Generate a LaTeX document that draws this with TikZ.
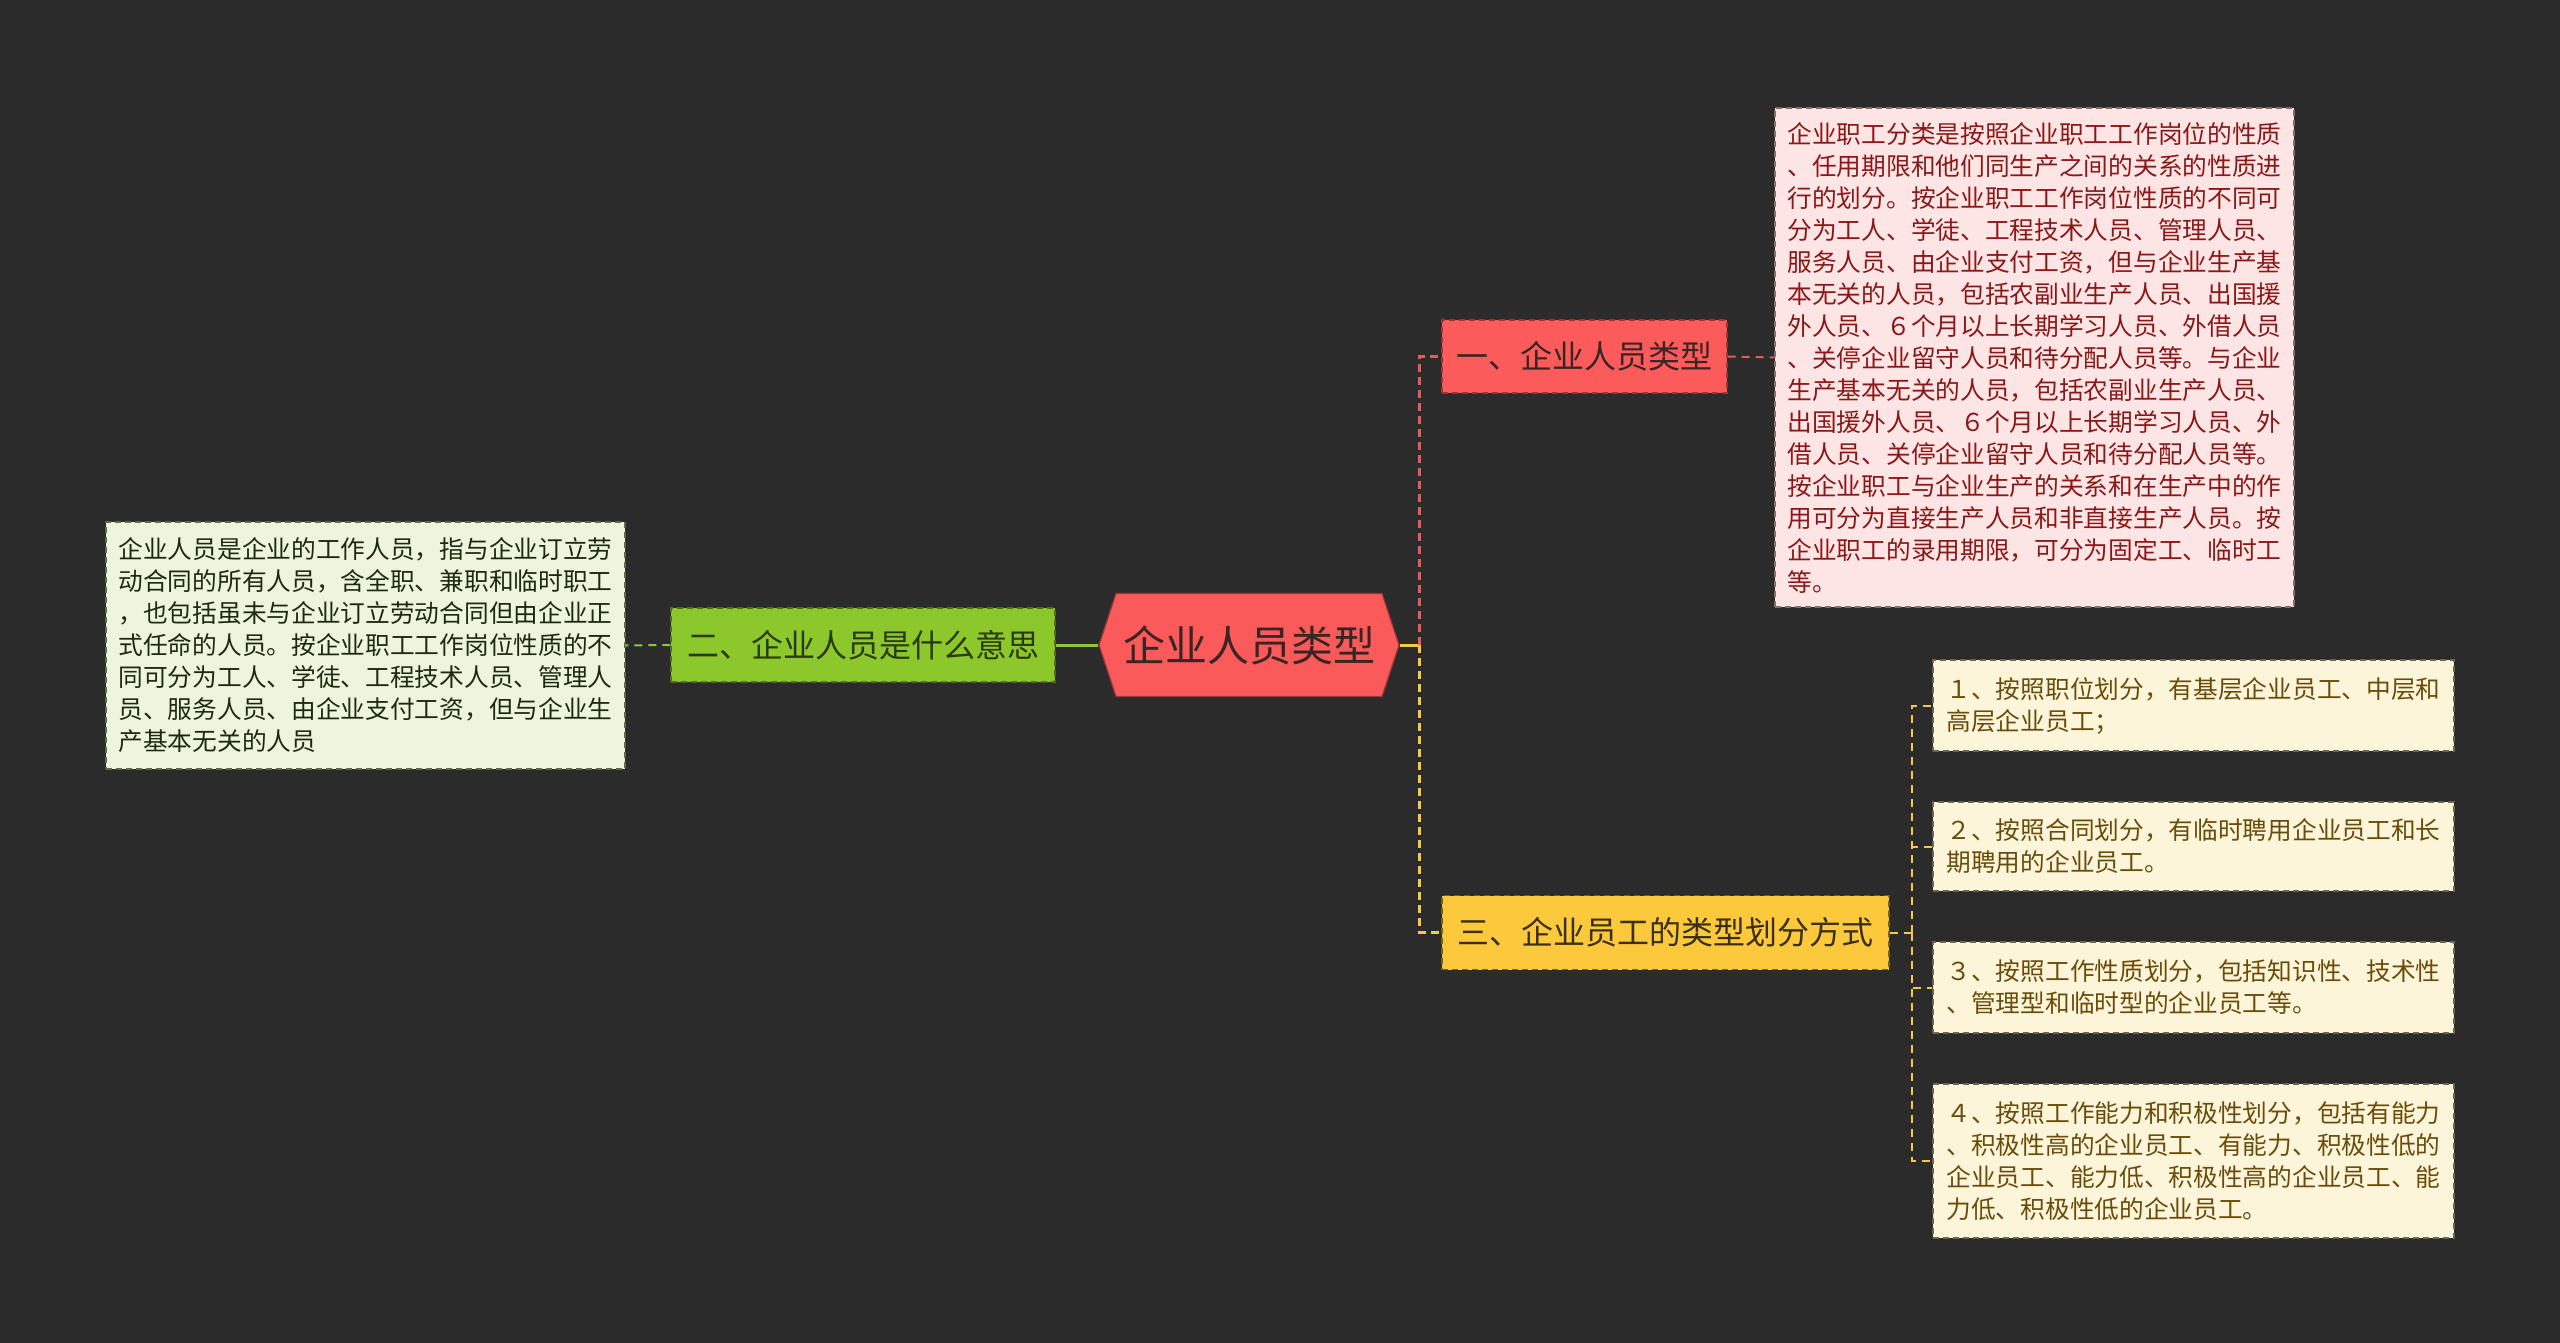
\documentclass[tikz,border=0pt]{standalone}
\usepackage{fontspec}
\setmainfont{Noto Sans CJK SC}
\usetikzlibrary{shapes.symbols}
\definecolor{bgc}{HTML}{2B2B2B}
\definecolor{rootfill}{HTML}{FA5A5A}
\definecolor{roottext}{HTML}{3B2424}
\definecolor{redfill}{HTML}{FB5B5B}
\definecolor{redline}{HTML}{E25C5C}
\definecolor{redborder}{HTML}{9E3535}
\definecolor{greenfill}{HTML}{8CC82C}
\definecolor{greenline}{HTML}{8CC83C}
\definecolor{greenborder}{HTML}{4E6E1E}
\definecolor{greentext}{HTML}{2A3A10}
\definecolor{yelfill}{HTML}{FCC83C}
\definecolor{yelline}{HTML}{F5C845}
\definecolor{yelborder}{HTML}{7A6020}
\definecolor{yeltext}{HTML}{3A3010}
\definecolor{pinkfill}{HTML}{FDE5E5}
\definecolor{pinktext}{HTML}{8A1818}
\definecolor{pinkborder}{HTML}{8A6A6A}
\definecolor{lgreenfill}{HTML}{EDF5DE}
\definecolor{lgreentext}{HTML}{1E2A10}
\definecolor{lgreenborder}{HTML}{5E6A48}
\definecolor{creamfill}{HTML}{FDF5DA}
\definecolor{creamtext}{HTML}{6A4C0A}
\definecolor{creamborder}{HTML}{6E6450}
\tikzset{
  leafbox/.style={rectangle, draw, dash pattern=on 3pt off 2pt, line width=0.6pt, inner sep=0pt, align=left, font=\fontsize{12.35}{16}\selectfont},
  branchbox/.style={rectangle, draw, dash pattern=on 3pt off 2pt, line width=0.6pt, inner sep=0pt, minimum height=37pt, font=\fontsize{16}{20}\selectfont},
  thickdash/.style={line width=1.5pt, dash pattern=on 4pt off 2.5pt},
  thindash/.style={line width=1pt, dash pattern=on 4pt off 3pt},
}
\begin{document}
\begin{tikzpicture}[x=0.5pt,y=-0.5pt]
\fill[bgc] (0,0) rectangle (2560,1343);
\useasboundingbox (0,0) rectangle (2560,1343);

% root
\node[shape=signal, signal to=east and west, signal pointer angle=143.5, fill=rootfill, draw=redborder, line width=0.6pt, minimum width=150pt, minimum height=51.5pt, inner sep=0pt, text=roottext, font=\fontsize{21}{24}\selectfont] (root) at (1249,645) {企业人员类型};

% branches
\node[branchbox, fill=greenfill, draw=greenborder, text=greentext, minimum width=192pt] (b2) at (863,645) {二、企业人员是什么意思};
\node[branchbox, fill=redfill, draw=redborder, text=roottext, minimum width=142.5pt, minimum height=36.5pt] (b1) at (1584.5,356.5) {一、企业人员类型};
\node[branchbox, fill=yelfill, draw=yelborder, text=yeltext, minimum width=223.5pt] (b3) at (1665.5,932.5) {三、企业员工的类型划分方式};

% leaves
\node[leafbox, fill=lgreenfill, draw=lgreenborder, text=lgreentext, minimum width=259.5pt, minimum height=123.5pt] (l2) at (365.5,645.5) {企业人员是企业的工作人员，指与企业订立劳\\动合同的所有人员，含全职、兼职和临时职工\\，也包括虽未与企业订立劳动合同但由企业正\\式任命的人员。按企业职工工作岗位性质的不\\同可分为工人、学徒、工程技术人员、管理人\\员、服务人员、由企业支付工资，但与企业生\\产基本无关的人员};

\node[leafbox, fill=pinkfill, draw=pinkborder, text=pinktext, minimum width=259.5pt, minimum height=249.5pt] (l1) at (2034.5,357.5) {企业职工分类是按照企业职工工作岗位的性质\\、任用期限和他们同生产之间的关系的性质进\\行的划分。按企业职工工作岗位性质的不同可\\分为工人、学徒、工程技术人员、管理人员、\\服务人员、由企业支付工资，但与企业生产基\\本无关的人员，包括农副业生产人员、出国援\\外人员、６个月以上长期学习人员、外借人员\\、关停企业留守人员和待分配人员等。与企业\\生产基本无关的人员，包括农副业生产人员、\\出国援外人员、６个月以上长期学习人员、外\\借人员、关停企业留守人员和待分配人员等。\\按企业职工与企业生产的关系和在生产中的作\\用可分为直接生产人员和非直接生产人员。按\\企业职工的录用期限，可分为固定工、临时工\\等。};

\node[leafbox, fill=creamfill, draw=creamborder, text=creamtext, minimum width=260.5pt, minimum height=45.5pt] (y1) at (2193.5,705.5) {１、按照职位划分，有基层企业员工、中层和\\高层企业员工；};
\node[leafbox, fill=creamfill, draw=creamborder, text=creamtext, minimum width=260.5pt, minimum height=44.5pt] (y2) at (2193.5,846.5) {２、按照合同划分，有临时聘用企业员工和长\\期聘用的企业员工。};
\node[leafbox, fill=creamfill, draw=creamborder, text=creamtext, minimum width=260.5pt, minimum height=45.5pt] (y3) at (2193.5,987.5) {３、按照工作性质划分，包括知识性、技术性\\、管理型和临时型的企业员工等。};
\node[leafbox, fill=creamfill, draw=creamborder, text=creamtext, minimum width=260.5pt, minimum height=77pt] (y4) at (2193.5,1161) {４、按照工作能力和积极性划分，包括有能力\\、积极性高的企业员工、有能力、积极性低的\\企业员工、能力低、积极性高的企业员工、能\\力低、积极性低的企业员工。};

% connectors
\draw[greenline, line width=1.5pt] (root.west) -- (b2.east);
\draw[greenline, thindash] (b2.west) -- (l2.east);
\coordinate (sp) at (1419,645);
\draw[yelline, line width=1.5pt] (root.east) -- (sp);
\draw[redline, thickdash] (sp) |- (b1.west);
\draw[yelline, thickdash] (sp) |- (b3.west);
\draw[redline, thindash] (b1.east) -- (l1.west);
\coordinate (sp3) at (1912,932.5);
\draw[yelline, thindash] (b3.east) -- (sp3);
\draw[yelline, thindash] (sp3) |- (y1.west);
\draw[yelline, thindash] (sp3) |- (y2.west);
\draw[yelline, thindash] (sp3) |- (y3.west);
\draw[yelline, thindash] (sp3) |- (y4.west);
\end{tikzpicture}
\end{document}
